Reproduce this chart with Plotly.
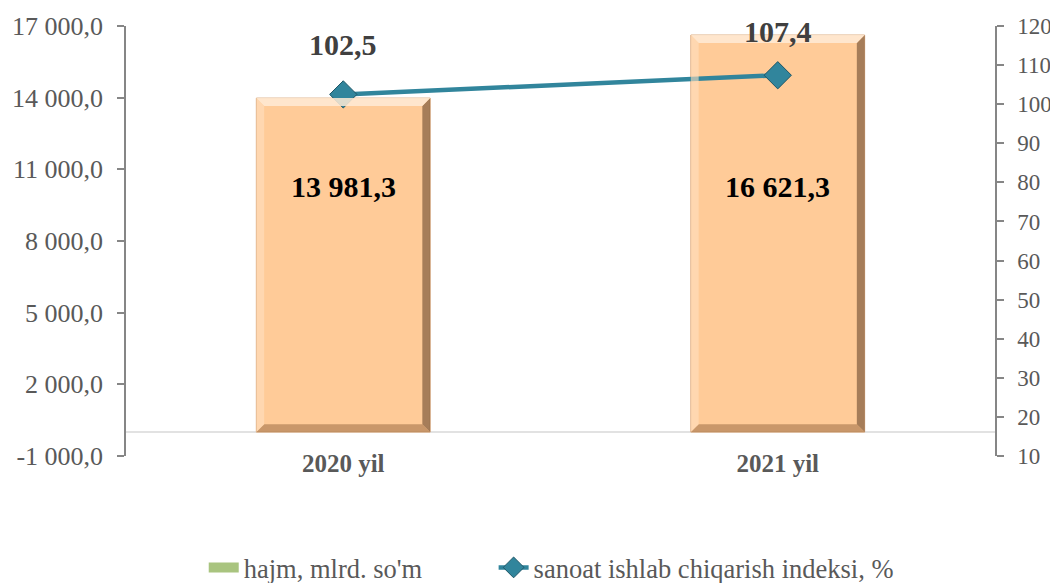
import plotly.graph_objects as go

categories = ["2020 yil", "2021 yil"]
volume = [13981.3, 16621.3]
index_pct = [102.5, 107.4]
left_ticks = [-1000, 2000, 5000, 8000, 11000, 14000, 17000]
right_ticks = [10, 20, 30, 40, 50, 60, 70, 80, 90, 100, 110, 120]
bar_name = "hajm, mlrd. so'm"
line_name = "sanoat ishlab chiqarish indeksi, %"


def fmt(v, d=1):
    s = f"{v:,.{d}f}"
    return s.replace(",", " ").replace(".", ",")


FONT = "Liberation Serif"
GRAY = "#595959"
BAR = "#FFCB98"
TEAL = "#31859C"

fig = go.Figure()
fig.add_trace(go.Bar(
    x=categories, y=volume, width=0.4, name=bar_name, showlegend=False,
    marker=dict(color=BAR, line=dict(color="#D9A677", width=1)),
    hoverinfo="skip",
))
# legend swatch for bar series (green as in the original legend)
fig.add_trace(go.Scatter(
    x=[categories[0]], y=[None], name=bar_name, mode="lines", legend="legend",
    line=dict(color="#A9C47F", width=11),
))
fig.add_trace(go.Scatter(
    x=categories, y=index_pct, name=line_name, yaxis="y2", mode="lines+markers", legend="legend2",
    line=dict(color=TEAL, width=4.5),
    marker=dict(symbol="diamond", size=21, color=TEAL, line=dict(color="#1F5767", width=1)),
))

# bevel shading on bars
bw = 0.2
dx = 0.018
dy = 330
for i, v in enumerate(volume):
    x0, x1 = i - bw, i + bw
    fig.add_shape(type="path", xref="x", yref="y",
                  path=f"M {x1},{v} L {x1},0 L {x1-dx},{dy} L {x1-dx},{v-dy} Z",
                  fillcolor="#6B4A2E", opacity=0.6, line=dict(width=0), layer="above")
    fig.add_shape(type="path", xref="x", yref="y",
                  path=f"M {x0},0 L {x1},0 L {x1-dx},{dy} L {x0+dx},{dy} Z",
                  fillcolor="#9C6E45", opacity=0.55, line=dict(width=0), layer="above")
    fig.add_shape(type="path", xref="x", yref="y",
                  path=f"M {x0},{v} L {x1},{v} L {x1-dx},{v-dy} L {x0+dx},{v-dy} Z",
                  fillcolor="#FFEBD6", opacity=0.85, line=dict(width=0), layer="above")
    fig.add_shape(type="path", xref="x", yref="y",
                  path=f"M {x0},{v} L {x0},0 L {x0+dx},{dy} L {x0+dx},{v-dy} Z",
                  fillcolor="#FFE0C0", opacity=0.6, line=dict(width=0), layer="above")

fig.add_shape(type="line", xref="paper", yref="y", x0=0, x1=1, y0=0, y1=0,
              line=dict(color="#D9D9D9", width=1.5), layer="below")

for i, v in enumerate(volume):
    fig.add_annotation(x=categories[i], y=10300, xref="x", yref="y", text=f"<b>{fmt(v)}</b>",
                       showarrow=False, font=dict(family=FONT, size=30, color="#000000"))
shifts = [50, 44]
for i, v in enumerate(index_pct):
    fig.add_annotation(x=categories[i], y=v, xref="x", yref="y2", text=f"<b>{fmt(v)}</b>",
                       showarrow=False, yshift=shifts[i], font=dict(family=FONT, size=30, color="#404040"))

legend_common = dict(orientation="h", xanchor="left", yanchor="middle", yref="container",
                     xref="container", y=0.04, bgcolor="rgba(0,0,0,0)",
                     font=dict(family=FONT, size=26.5, color=GRAY))

fig.update_layout(
    width=1058, height=583,
    paper_bgcolor="white", plot_bgcolor="white",
    margin=dict(l=118, r=71, t=18, b=135),
    font=dict(family=FONT, size=26, color=GRAY),
    xaxis=dict(type="category", showline=False, ticks="", showgrid=False, automargin=False,
               ticklabelstandoff=-10,
               tickfont=dict(family=FONT, size=25, color=GRAY, weight="bold")),
    yaxis=dict(range=[-1000, 17000], tickvals=left_ticks, ticktext=[fmt(t) for t in left_ticks],
               showgrid=False, zeroline=False, showline=True, linecolor="#868686", linewidth=1.5,
               ticks="outside", ticklen=7, tickcolor="#868686", tickwidth=1.5, automargin=False,
               ticklabelstandoff=9,
               tickfont=dict(family=FONT, size=26, color=GRAY)),
    yaxis2=dict(range=[10, 120], tickvals=right_ticks, overlaying="y", side="right",
                showgrid=False, zeroline=False, showline=True, linecolor="#868686", linewidth=1.5,
                ticks="outside", ticklen=7, tickcolor="#868686", tickwidth=1.5, automargin=False,
                ticklabelstandoff=9,
                tickfont=dict(family=FONT, size=23, color=GRAY)),
    legend=dict(x=0.185, **legend_common),
    legend2=dict(x=0.459, **legend_common),
    showlegend=True,
)

fig.write_html("out.html")
